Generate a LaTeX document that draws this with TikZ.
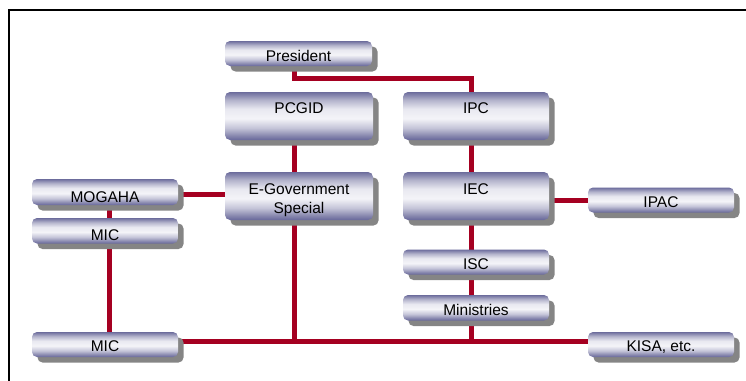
\documentclass[tikz,border=0pt]{standalone}
\usepackage{fontspec}
\setmainfont{Liberation Sans}
\usetikzlibrary{shadows,backgrounds}
\definecolor{sA}{HTML}{66669A}
\definecolor{sB}{HTML}{8A8AB0}
\definecolor{sC}{HTML}{C4C4D8}
\definecolor{sD}{HTML}{F4F4F8}
\definecolor{sE}{HTML}{E8E8F0}
\definecolor{sF}{HTML}{B4B4CC}
\definecolor{sG}{HTML}{6C6C9C}
\definecolor{shgray}{HTML}{858585}
\definecolor{crim}{RGB}{165,0,33}
\pgfdeclareverticalshading{boxshade}{100bp}{color(0bp)=(sA); color(25bp)=(sA); color(30bp)=(sB); color(37.5bp)=(sC); color(47.5bp)=(sD); color(57.5bp)=(sE); color(66.5bp)=(sF); color(75bp)=(sG); color(100bp)=(sG)}
\tikzset{
  box/.style={rounded corners=5pt, shading=boxshade, inner sep=0pt, outer sep=0pt, anchor=north west,
    drop shadow={shadow xshift=5.5pt, shadow yshift=-5.5pt, fill=shgray, opacity=1}},
  lbl/.style={anchor=base, font=\fontsize{15.5}{18}\selectfont, inner sep=0pt},
  conn/.style={draw=crim, line width=5pt, line join=miter},
  frame/.style={draw=black, line width=2pt}
}
\begin{document}
\begin{tikzpicture}[x=1pt, y=-1pt]
\useasboundingbox (0,0) rectangle (746,380);
% boxes
\node[box, minimum width=147pt, minimum height=25pt] (pres) at (225,41) {};
\node[box, minimum width=148pt, minimum height=48pt] (pcgid) at (225,92) {};
\node[box, minimum width=146pt, minimum height=48pt] (ipc) at (403,92) {};
\node[box, minimum width=148pt, minimum height=48pt] (egov) at (225,172) {};
\node[box, minimum width=146pt, minimum height=48pt] (iec) at (403,172) {};
\node[box, minimum width=146pt, minimum height=26pt] (mogaha) at (32,179) {};
\node[box, minimum width=146pt, minimum height=25.5pt] (mic1) at (32,218) {};
\node[box, minimum width=146pt, minimum height=25pt] (mic2) at (32,332) {};
\node[box, minimum width=146pt, minimum height=25pt] (ipac) at (588,187.5) {};
\node[box, minimum width=146pt, minimum height=25pt] (isc) at (403,249.5) {};
\node[box, minimum width=146pt, minimum height=25.5pt] (mins) at (403,295) {};
\node[box, minimum width=146pt, minimum height=25pt] (kisa) at (588,332) {};
% labels
\node[lbl] (t-pres) at (298.5,61.3) {President};
\node[lbl] (t-pcgid) at (299,113) {PCGID};
\node[lbl] (t-ipc) at (476,113) {IPC};
\node[lbl] (t-egov1) at (299,194.7) {E-Government};
\node[lbl] (t-egov2) at (299,213) {Special};
\node[lbl] (t-iec) at (476,194.7) {IEC};
\node[lbl] (t-mogaha) at (105,202) {MOGAHA};
\node[lbl] (t-mic1) at (105,240.3) {MIC};
\node[lbl] (t-mic2) at (105,351.8) {MIC};
\node[lbl] (t-ipac) at (661,207.3) {IPAC};
\node[lbl] (t-isc) at (476,269.7) {ISC};
\node[lbl] (t-mins) at (476,315.7) {Ministries};
\node[lbl] (t-kisa) at (661,351.8) {KISA, etc.};
% helper coordinates
\coordinate (xL) at (294.5,0);
\coordinate (xR) at (471,0);
\coordinate (xM) at (109,0);
\coordinate (yT) at (0,78.8);
\coordinate (yB) at (0,341.5);
\coordinate (yMO) at (0,194.3);
\coordinate (yIP) at (0,200);
\begin{pgfonlayer}{background}
\draw[conn] (pres.south -| xL) |- (yT -| xR) -- (ipc.north -| xR);
\draw[conn] (pcgid.south -| xL) -- (egov.north -| xL);
\draw[conn] (egov.south -| xL) -- (yB -| xL);
\draw[conn] (ipc.south -| xR) -- (iec.north -| xR);
\draw[conn] (iec.south -| xR) -- (isc.north -| xR);
\draw[conn] (isc.south -| xR) -- (mins.north -| xR);
\draw[conn] (mins.south -| xR) -- (yB -| xR);
\draw[conn] (mogaha.east |- yMO) -- (egov.west |- yMO);
\draw[conn] (iec.east |- yIP) -- (ipac.west |- yIP);
\draw[conn] (mogaha.south -| xM) -- (mic1.north -| xM);
\draw[conn] (mic1.south -| xM) -- (mic2.north -| xM);
\draw[conn] (mic2.east |- yB) -- (kisa.west |- yB);
\end{pgfonlayer}
% frame
\coordinate (fb) at (9,400);
\coordinate (fc) at (9,10);
\coordinate (fr) at (760,10);
\draw[frame] (fb) -- (fc) -- (fr);
\end{tikzpicture}
\end{document}
